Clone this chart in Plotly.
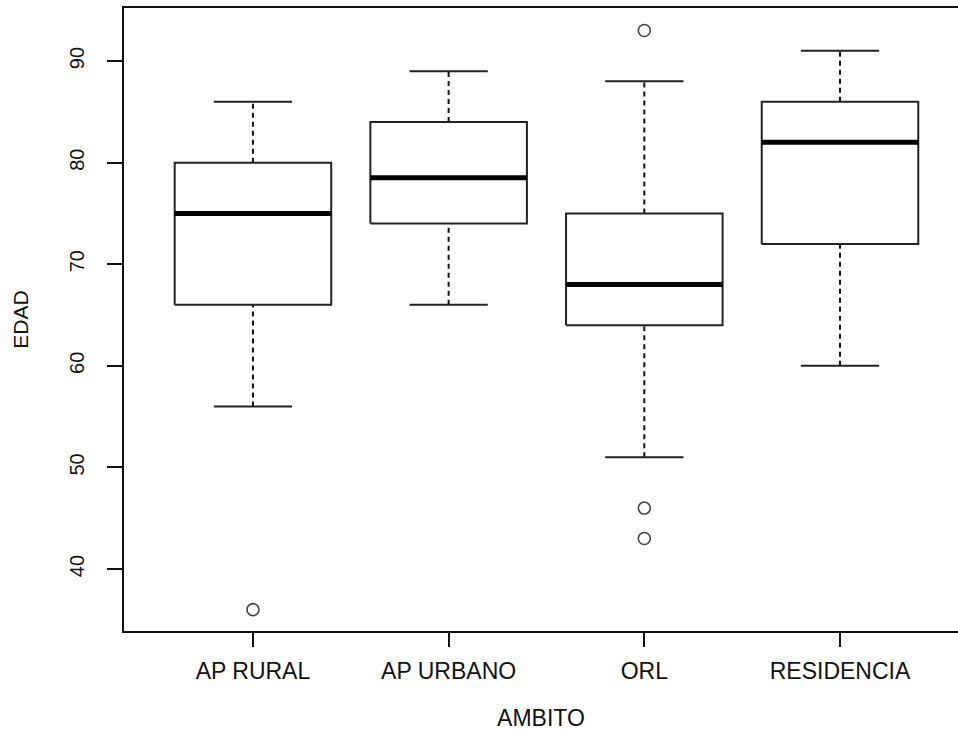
import plotly.graph_objects as go

# Age distribution per setting (five-number summaries + outliers)
ambitos = ["AP RURAL", "AP URBANO", "ORL", "RESIDENCIA"]
whisker_low = [56, 66, 51, 60]
q1 = [66, 74, 64, 72]
median = [75, 78.5, 68, 82]
q3 = [80, 84, 75, 86]
whisker_high = [86, 89, 88, 91]
outlier_group = [1, 3, 3, 3]
outlier_value = [36, 93, 46, 43]

y_ticks = [40, 50, 60, 70, 80, 90]

BOX_HALF = 0.4
CAP_HALF = 0.2
FONT = "Liberation Sans, Arial, sans-serif"

fig = go.Figure()

for i, name in enumerate(ambitos):
    p = i + 1
    # dashed whiskers
    for a, b in ((whisker_low[i], q1[i]), (q3[i], whisker_high[i])):
        fig.add_trace(go.Scatter(
            x=[p, p], y=[a, b], mode="lines",
            line=dict(color="#111", width=2, dash="5px,4px"),
            hoverinfo="skip", showlegend=False))
    # whisker caps
    for v in (whisker_low[i], whisker_high[i]):
        fig.add_trace(go.Scatter(
            x=[p - CAP_HALF, p + CAP_HALF], y=[v, v], mode="lines",
            line=dict(color="#222", width=2),
            hoverinfo="skip", showlegend=False))
    # box
    fig.add_trace(go.Scatter(
        x=[p - BOX_HALF, p + BOX_HALF, p + BOX_HALF, p - BOX_HALF, p - BOX_HALF],
        y=[q1[i], q1[i], q3[i], q3[i], q1[i]],
        mode="lines", fill="toself", fillcolor="white",
        line=dict(color="#222", width=2),
        name=name, showlegend=False))
    # median
    fig.add_trace(go.Scatter(
        x=[p - BOX_HALF, p + BOX_HALF], y=[median[i], median[i]], mode="lines",
        line=dict(color="black", width=5),
        hoverinfo="skip", showlegend=False))

# outliers
fig.add_trace(go.Scatter(
    x=outlier_group, y=outlier_value, mode="markers",
    marker=dict(symbol="circle-open", size=12, color="#444", line=dict(width=1.6)),
    showlegend=False))

fig.update_layout(
    width=958, height=731,
    margin=dict(l=124, r=0, t=8, b=100),
    paper_bgcolor="white", plot_bgcolor="white",
    font=dict(family=FONT, color="#111"),
    xaxis=dict(
        range=[0.341, 4.603],
        tickvals=[1, 2, 3, 4], ticktext=ambitos,
        ticks="outside", ticklen=14, tickwidth=2, tickcolor="#111",
        showline=True, linewidth=2, linecolor="#111", mirror=True,
        showgrid=False, zeroline=False,
        tickfont=dict(size=23),
        ticklabelstandoff=4,
        title=dict(text="AMBITO", font=dict(size=23), standoff=28),
    ),
    yaxis=dict(
        range=[33.9, 95.22],
        tickvals=y_ticks,
        ticks="outside", ticklen=15, tickwidth=2, tickcolor="#111",
        showline=True, linewidth=2, linecolor="#111",
        showgrid=False, zeroline=False,
        tickangle=-90,
        tickfont=dict(size=20),
        ticklabelstandoff=15,
        title=dict(text="EDAD", font=dict(size=21), standoff=32),
    ),
)

fig.write_html("out.html")
